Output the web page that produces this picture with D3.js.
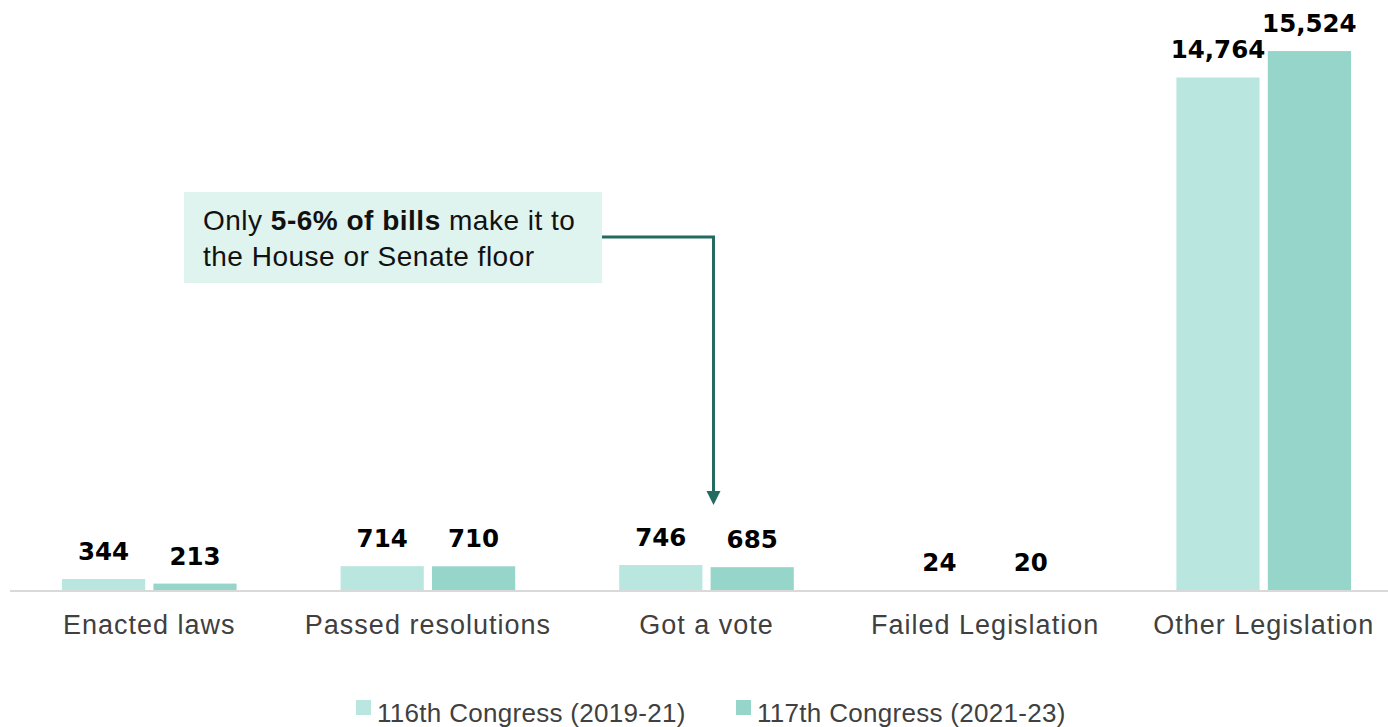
<!DOCTYPE html>
<html>
<head>
<meta charset="utf-8">
<script src="https://cdn.jsdelivr.net/npm/d3@7"></script>
<style>
  body { margin: 0; background: #fff; }
  text { font-family: "Liberation Sans", Arial, sans-serif; }
</style>
</head>
<body>
<div id="chart-area"></div>
<script>
// data
let categories = ["Enacted laws", "Passed resolutions", "Got a vote", "Failed Legislation", "Other Legislation"];
let seriesNames = ["116th Congress (2019-21)", "117th Congress (2021-23)"];
let values116 = [344, 714, 746, 24, 14764];
let values117 = [213, 710, 685, 20, 15524];
let colors = ["#b9e6df", "#96d5c9"];

let width = 1388, height = 727;
let baseline = 591;

let svg = d3.select("#chart-area")
    .append("svg")
    .attr("width", width)
    .attr("height", height);

let rows = categories.map((c, i) => ({cat: c, vals: [values116[i], values117[i]]}));

// scales
let x0 = d3.scaleBand()
    .domain(categories)
    .range([10, 1403]);
let x1 = d3.scaleBand()
    .domain([0, 1])
    .range([52, x0.bandwidth() - 52])
    .paddingInner(0.09);
let y = d3.scaleLinear()
    .domain([0, 16000])
    .range([baseline, 34.5]);

// bars
let groups = svg.selectAll("g.grp")
    .data(rows)
    .enter()
    .append("g")
    .attr("class", "grp")
    .attr("transform", d => `translate(${x0(d.cat)},0)`);

groups.selectAll("rect")
    .data(d => d.vals.map((v, i) => ({v: v, i: i})))
    .enter()
    .append("rect")
    .attr("x", d => x1(d.i))
    .attr("width", x1.bandwidth())
    .attr("y", d => y(d.v))
    .attr("height", d => baseline - y(d.v))
    .attr("fill", d => colors[d.i]);

// value labels (wide bold face like the original)
groups.selectAll("text.val")
    .data(d => d.vals.map((v, i) => ({v: v, i: i})))
    .enter()
    .append("text")
    .attr("class", "val")
    .attr("x", d => x1(d.i) + x1.bandwidth() / 2)
    .attr("y", d => y(d.v) - 19)
    .attr("text-anchor", "middle")
    .style("font-family", "'DejaVu Sans', Verdana, sans-serif")
    .attr("font-size", "24.5px")
    .attr("font-weight", "bold")
    .attr("fill", "#000")
    .text(d => d3.format(",")(d.v));

// x axis
let xAxis = svg.append("g")
    .attr("transform", `translate(0,${baseline})`)
    .call(d3.axisBottom(x0).tickSize(0).tickPadding(24));
xAxis.select(".domain")
    .attr("d", `M10,0H${width}`)
    .attr("stroke", "#d9d9d9")
    .attr("stroke-width", 2);
xAxis.selectAll(".tick text")
    .attr("font-family", "Liberation Sans, Arial, sans-serif")
    .attr("font-size", "27px")
    .attr("letter-spacing", "1px")
    .attr("fill", "#404040");

// annotation
let ann = svg.append("g");
ann.append("rect")
    .attr("x", 184).attr("y", 192)
    .attr("width", 418).attr("height", 91)
    .attr("fill", "#dff3ef");
let t1 = ann.append("text")
    .attr("x", 203).attr("y", 230)
    .attr("font-size", "28px")
    .attr("letter-spacing", "0.5px")
    .attr("fill", "#111");
t1.append("tspan").text("Only ");
t1.append("tspan").attr("font-weight", "bold").text("5-6% of bills");
t1.append("tspan").text(" make it to");
ann.append("text")
    .attr("x", 203).attr("y", 266)
    .attr("font-size", "28px")
    .attr("letter-spacing", "0.5px")
    .attr("fill", "#111")
    .text("the House or Senate floor");

let arrowX = x0("Got a vote") + x0.bandwidth() / 2 + 7;
ann.append("path")
    .attr("d", `M602,237H${arrowX}V495`)
    .attr("fill", "none")
    .attr("stroke", "#236b5e")
    .attr("stroke-width", 3);
ann.append("path")
    .attr("d", `M${arrowX - 7},491L${arrowX + 7},491L${arrowX},505Z`)
    .attr("fill", "#236b5e");

// legend
let legend = svg.append("g")
    .attr("transform", "translate(356,713)");
let legX = [0, 380];
seriesNames.forEach((s, i) => {
    let row = legend.append("g").attr("transform", `translate(${legX[i]},0)`);
    row.append("rect")
        .attr("y", -13)
        .attr("width", 15)
        .attr("height", 15)
        .attr("fill", colors[i]);
    row.append("text")
        .attr("x", 21)
        .attr("y", 9)
        .attr("font-size", "26px")
        .attr("letter-spacing", "0.3px")
        .attr("fill", "#404040")
        .text(s);
});
</script>
</body>
</html>
